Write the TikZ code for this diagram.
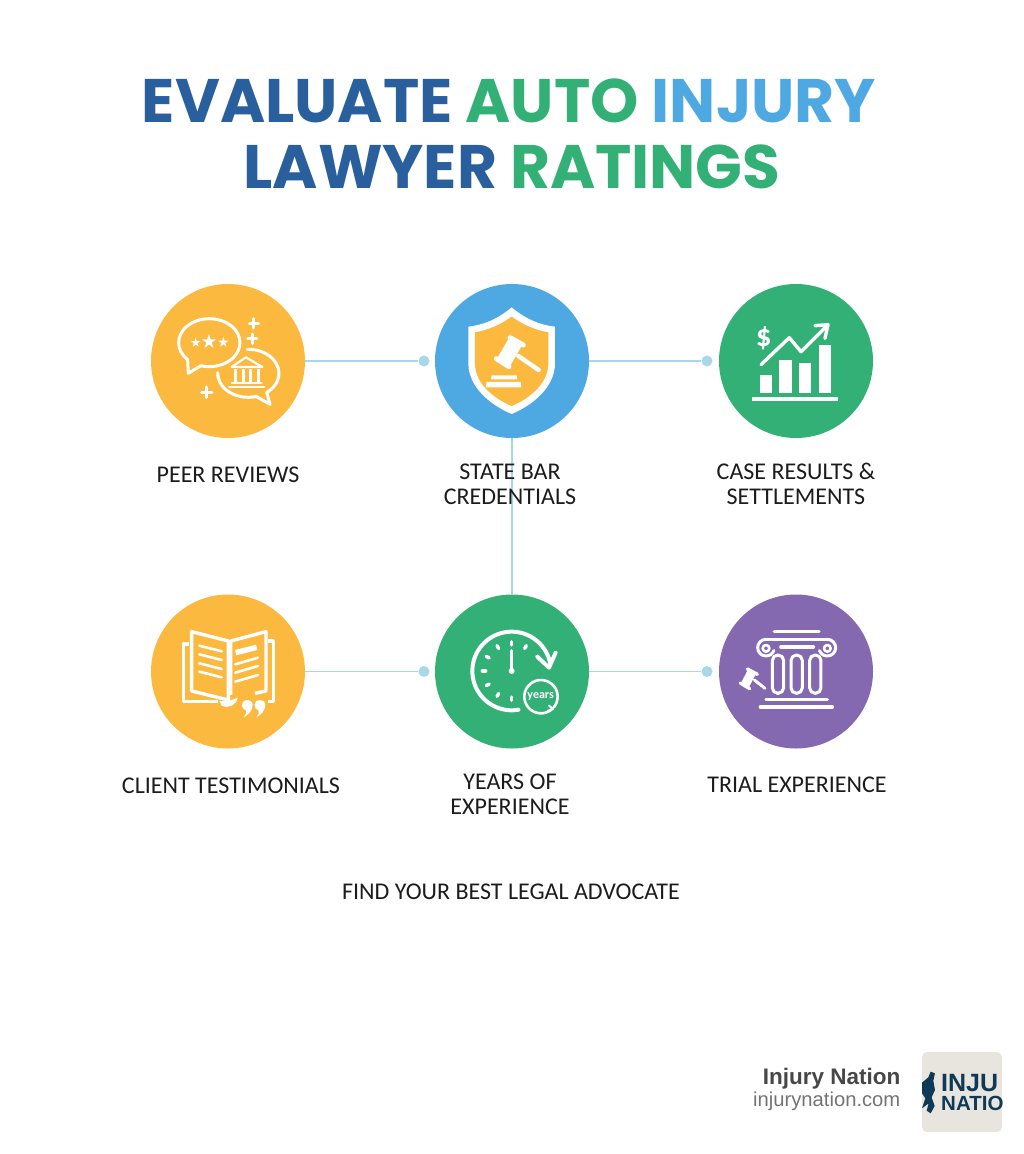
\documentclass[tikz,border=0pt]{standalone}
\usepackage{fontspec}
\setmainfont{Carlito}
\newfontfamily\titlefont{Poppins}
\newfontfamily\footfont{Liberation Sans}
\definecolor{gold}{HTML}{FBB93F}
\definecolor{skyblue}{HTML}{4EA8E2}
\definecolor{leaf}{HTML}{33B075}
\definecolor{violet}{HTML}{8469B0}
\definecolor{navy}{HTML}{2A5F9E}
\definecolor{linkblue}{HTML}{A8D8E8}
\definecolor{ink}{HTML}{1C1C1C}
\definecolor{logoink}{HTML}{0F3A57}
\definecolor{logobg}{HTML}{E8E5DF}
\tikzset{
  disc/.style={circle,minimum size=154pt,inner sep=0pt},
  pin/.style={circle,fill=linkblue,minimum size=11pt,inner sep=0pt},
  link/.style={linkblue,line width=1.8pt},
  caption/.style={font=\fontsize{24}{25}\selectfont,text=ink,align=center,inner sep=0pt},
  heading/.style={font=\titlefont\bfseries\fontsize{61.4}{62}\selectfont,inner sep=0pt},
  icon/.style={white,line width=3pt,line cap=round,line join=round},
  zoomed/.style={shift={#1},scale=0.3333}
}
\newcommand{\plusmark}[3]{\draw[icon] (#1-#3,#2) -- (#1+#3,#2) (#1,#2-#3) -- (#1,#2+#3);}
\newcommand{\starmark}[3]{\fill[white,shift={(#1,#2)},scale=#3] (0,-1) -- (.22,-.31) -- (.95,-.31) -- (.36,.12) -- (.59,.81) -- (0,.38) -- (-.59,.81) -- (-.36,.12) -- (-.95,-.31) -- (-.22,-.31) -- cycle;}
\newcommand{\quotemark}[1]{\fill[white,shift={(#1,0)}] (306,358) .. controls (306,340) and (338,340) .. (338,360) .. controls (338,376) and (325,390) .. (311,397) .. controls (318,386) and (321,380) .. (318,376) .. controls (310,376) and (306,368) .. (306,358) -- cycle;}
\begin{document}
\begin{tikzpicture}[x=1pt,y=-1pt]
  \useasboundingbox (0,0) rectangle (1024,1154);

  % title
  \node[heading] (titleone) at (509,101) {\textcolor{navy}{EVALUATE} \textcolor{leaf}{AUTO} \textcolor{skyblue}{INJURY}};
  \node[heading] (titletwo) at (512,167) {\textcolor{navy}{LAWYER} \textcolor{leaf}{RATINGS}};

  % discs
  \node[disc,fill=gold] (peer) at (228,361) {};
  \node[disc,fill=skyblue] (bar) at (512,361) {};
  \node[disc,fill=leaf] (results) at (796,361) {};
  \node[disc,fill=gold] (clients) at (228,671.5) {};
  \node[disc,fill=leaf] (years) at (512,671.5) {};
  \node[disc,fill=violet] (trial) at (796,671.5) {};

  % links
  \node[pin] (pinA) at (424,361) {};
  \node[pin] (pinB) at (707,361) {};
  \node[pin] (pinC) at (424,671.5) {};
  \node[pin] (pinD) at (707,671.5) {};
  \draw[link] (peer) -- (pinA);
  \draw[link] (bar) -- (pinB);
  \draw[link] (clients) -- (pinC);
  \draw[link] (years) -- (pinD);
  \draw[link] (bar) -- (years);

  % captions
  \node[caption] (peertext) at (228,475) {PEER REVIEWS};
  \node[caption] (bartext) at (510,484.5) {STATE BAR\\CREDENTIALS};
  \node[caption] (resultstext) at (796,484) {CASE RESULTS \&\\SETTLEMENTS};
  \node[caption] (clientstext) at (231,786) {CLIENT TESTIMONIALS};
  \node[caption] (yearstext) at (510,794.5) {YEARS OF\\EXPERIENCE};
  \node[caption] (trialtext) at (797,785) {TRIAL EXPERIENCE};
  \node[caption] (slogan) at (511,892) {FIND YOUR BEST LEGAL ADVOCATE};

  % peer icon
  \begin{scope}[zoomed={(130,270)}]
    \draw[icon,shift={(238,218)}] (135:92 and 72) arc[start angle=135,end angle=466,x radius=92,y radius=72] -- (-63,92) -- cycle;
    \draw[icon,shift={(355,310)}] (268:92 and 72) arc[start angle=268,end angle=413,x radius=92,y radius=72] -- (65,93) -- (75:92 and 72) arc[start angle=75,end angle=182,x radius=92,y radius=72];
    \starmark{197}{218}{15}
    \starmark{237}{215}{23}
    \starmark{280}{217}{16}
    \plusmark{372}{160}{14}
    \plusmark{367}{206}{14}
    \plusmark{230}{367}{16}
    % bank
    \draw[icon,line width=2.2pt] (348,262) -- (305,291) -- (397,291) -- cycle;
    \foreach \cx in {318,340,362,385}
      \draw[icon,line width=3pt,line cap=butt] (\cx,298) -- (\cx,338);
    \draw[icon,line width=2pt] (305,340) -- (395,340);
    \draw[icon,line width=2.4pt] (298,351) -- (402,351);
  \end{scope}

  % shield icon
  \begin{scope}[zoomed={(420,270)}]
    \fill[white] (275,112) .. controls (232,148) and (190,165) .. (145,170) -- (145,280) .. controls (145,350) and (210,405) .. (275,432) .. controls (340,405) and (405,350) .. (405,280) -- (405,170) .. controls (360,165) and (318,148) .. (275,112) -- cycle;
    \fill[gold] (275,140) .. controls (240,165) and (205,180) .. (165,187) -- (165,280) .. controls (165,340) and (220,385) .. (275,408) .. controls (330,385) and (385,340) .. (385,280) -- (385,187) .. controls (345,180) and (310,165) .. (275,140) -- cycle;
    \draw[icon,line width=5pt] (270,203) -- (310,225);
    \draw[icon,line width=5pt] (229,266) -- (267,290);
    \draw[white,line width=15pt] (287,214) -- (249,280);
    \draw[icon,line width=4.4pt] (295,258) -- (356,300);
    \fill[white] (215,316) -- (290,316) -- (292,328) -- (213,328) -- cycle;
    \fill[white] (200,336) -- (302,336) -- (304,352) -- (197,352) -- cycle;
  \end{scope}

  % results icon
  \begin{scope}[zoomed={(690,270)}]
    \fill[white] (210,316) rectangle (246,370);
    \fill[white] (268,270) rectangle (305,370);
    \fill[white] (327,278) rectangle (364,370);
    \fill[white] (387,226) rectangle (422,370);
    \fill[white] (186,381) rectangle (445,392);
    \draw[icon,line width=3.4pt] (213,284) -- (298,203) -- (333,245) -- (408,170);
    \draw[icon,line width=3.4pt] (375,167) -- (414,164) -- (405,205);
    \node[white,font=\bfseries\fontsize{31}{31}\selectfont,inner sep=0pt] (dollar) at (221,205) {\$};
  \end{scope}

  % book icon
  \begin{scope}[zoomed={(140,585)}]
    \draw[icon,line cap=butt,line width=3.4pt] (155,140) -- (265,168) -- (265,345) -- (155,318) -- cycle;
    \draw[icon,line cap=butt,line width=3.4pt] (345,325) -- (378,318) -- (378,140) -- (272,168) -- (272,330);
    \draw[icon,line cap=butt,line width=3.4pt] (148,177) -- (130,177) -- (130,350) -- (235,350);
    \draw[icon,line cap=butt,line width=3.4pt] (385,168) -- (400,168) -- (400,350) -- (385,350);
    \foreach \ya in {182,208,235,260}
      \draw[icon,line width=2.6pt] (178,\ya) -- (245,\ya+17);
    \draw[white,line width=5.5pt] (287,203) -- (350,187);
    \foreach \ya in {238,263,290}
      \draw[icon,line width=2.6pt] (286,\ya) -- (354,\ya-20);
    \fill[white] (238,347) .. controls (262,352) and (275,345) .. (293,338) .. controls (290,360) and (265,372) .. (245,362) -- cycle;
    \quotemark{0}
    \quotemark{38}
  \end{scope}

  % clock icon
  \begin{scope}[zoomed={(425,585)}]
    \draw[icon,line width=4pt,shift={(260,258)}] (80:118) arc[start angle=80,end angle=348,radius=118];
    \draw[icon,line width=4pt] (337,215) -- (372,248) -- (392,203);
    \foreach \ang in {90,120,150,180,210,240,270,300}
      \draw[icon,line width=3.4pt,shift={(260,258)}] (\ang:78) -- (\ang:88);
    \draw[icon,line width=3pt] (260,258) -- (260,197);
    \fill[white] (260,258) circle (9);
    \draw[icon,line width=2.6pt,shift={(348,335)}] (50:50) arc[start angle=50,end angle=400,radius=50];
    \draw[icon,line width=2pt] (372,362) -- (384,372) -- (368,378);
    \node[white,font=\bfseries\fontsize{12}{12}\selectfont,inner sep=0pt] (yearsmark) at (347,334) {years};
  \end{scope}

  % column icon
  \begin{scope}[zoomed={(705,585)}]
    \draw[icon,line width=3.4pt] (208,140) -- (342,140);
    \draw[icon,line width=3.6pt] (228,186) -- (325,186);
    \draw[icon,line width=3pt] (183,163) -- (367,163);
    \draw[icon,line width=3pt,shift={(183,188)}] (270:25) arc[start angle=270,end angle=20,radius=25];
    \draw[icon,line width=3pt,shift={(367,188)}] (270:25) arc[start angle=270,end angle=520,radius=25];
    \draw[icon,line width=2.6pt] (183,190) circle (10);
    \draw[icon,line width=2.6pt] (367,190) circle (10);
    \foreach \cx in {219,275,331}
      \draw[icon,line width=3pt,rounded corners=5.5pt] (\cx-17,210) rectangle (\cx+17,325);
    \draw[icon,line width=3.4pt] (183,343) -- (367,343);
    \draw[icon,line width=3.4pt] (166,366) -- (382,366);
    % gavel
    \draw[icon,line width=3.4pt] (127,252) -- (157,268);
    \draw[icon,line width=3.4pt] (106,294) -- (134,311);
    \draw[white,line width=9pt] (140,262) -- (120,300);
    \draw[icon,line width=3pt] (148,285) -- (180,310);
  \end{scope}

  % footer
  \node[font=\footfont\bfseries\fontsize{22.5}{22.5}\selectfont,text=black!72,anchor=east,inner sep=0pt] (brand) at (900.5,1079) {Injury Nation};
  \node[font=\footfont\fontsize{20.2}{20.2}\selectfont,text=black!55,anchor=east,inner sep=0pt] (site) at (900.5,1101) {injurynation.com};
  \begin{scope}
    \clip[rounded corners=5pt] (922,1052) rectangle (1002,1132);
    \fill[logobg] (922,1052) rectangle (1002,1132);
    \node[font=\footfont\bfseries\fontsize{25}{25}\selectfont,text=logoink,anchor=base west,inner sep=0pt] (logotop) at (941,1091.5) {INJU};
    \node[font=\footfont\bfseries\fontsize{20.5}{20.5}\selectfont,text=logoink,anchor=base west,inner sep=0pt] (logobottom) at (941,1110) {NATIO};
    \begin{scope}[zoomed={(740,1040)}]
      \fill[logoink] (546,128) -- (565,112) -- (572,95) -- (585,100) -- (580,122) -- (585,150) -- (575,172) -- (584,198) -- (572,220) -- (560,212) -- (566,190) -- (546,205) -- (556,175) -- (546,160) -- cycle;
    \end{scope}
  \end{scope}
\end{tikzpicture}
\end{document}
